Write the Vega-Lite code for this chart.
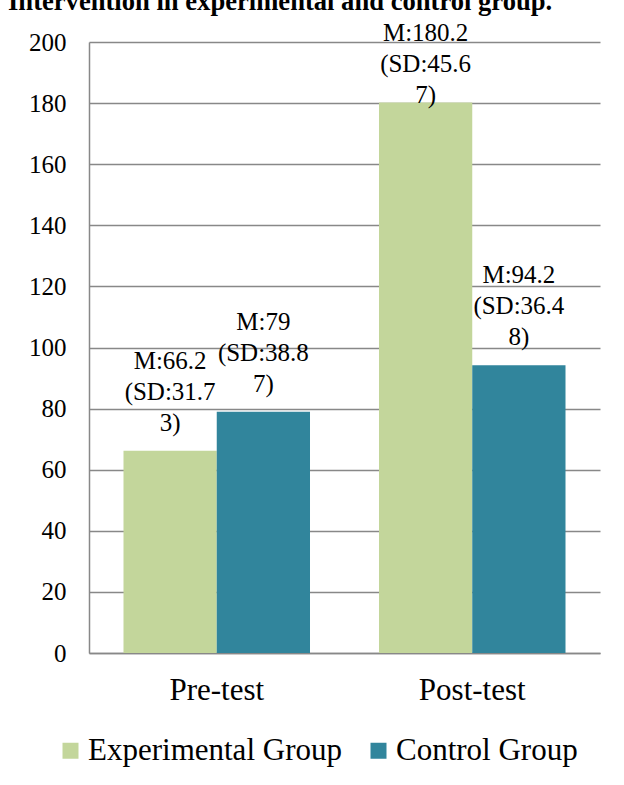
{
  "$schema": "https://vega.github.io/schema/vega-lite/v6.json",
  "autosize": {"type": "none"},
  "padding": {"left": 89, "top": 42, "right": 24, "bottom": 132},
  "width": 511,
  "height": 611,
  "background": "white",
  "title": {
    "text": "Intervention in experimental and control group.",
    "font": "Liberation Serif",
    "fontSize": 26.6,
    "fontWeight": "bold",
    "color": "black",
    "anchor": "start",
    "frame": "group",
    "dx": -81,
    "dy": 15,
    "baseline": "alphabetic",
    "offset": 0
  },
  "data": {
    "values": [
      {"test": "Pre-test", "group": "Experimental Group", "value": 66.2, "label": "M:66.2\n(SD:31.7\n3)"},
      {"test": "Pre-test", "group": "Control Group", "value": 79, "label": "M:79\n(SD:38.8\n7)"},
      {"test": "Post-test", "group": "Experimental Group", "value": 180.2, "label": "M:180.2\n(SD:45.6\n7)"},
      {"test": "Post-test", "group": "Control Group", "value": 94.2, "label": "M:94.2\n(SD:36.4\n8)"}
    ]
  },
  "encoding": {
    "x": {
      "field": "test", "type": "nominal", "sort": ["Pre-test", "Post-test"],
      "scale": {"paddingInner": 0.27, "paddingOuter": 0.135},
      "axis": {"title": null, "labelAngle": 0, "ticks": false, "domain": true, "domainColor": "#888888", "domainWidth": 1.5, "labelFont": "Liberation Serif", "labelFontSize": 31, "labelColor": "black", "labelPadding": 22, "grid": false}
    },
    "y": {
      "field": "value", "type": "quantitative",
      "scale": {"domain": [0, 200], "nice": false, "zero": true},
      "axis": {"title": null, "values": [0, 20, 40, 60, 80, 100, 120, 140, 160, 180, 200], "ticks": false, "domain": true, "domainColor": "#888888", "domainWidth": 1.5, "grid": true, "gridColor": "#888888", "gridWidth": 1.5, "labelFont": "Liberation Serif", "labelFontSize": 25, "labelColor": "black", "labelPadding": 23}
    }
  },
  "layer": [
    {
      "mark": {"type": "bar"},
      "encoding": {
        "xOffset": {"field": "group", "type": "nominal", "sort": ["Experimental Group", "Control Group"], "scale": {"paddingInner": 0, "paddingOuter": 0}},
        "color": {
          "field": "group", "type": "nominal",
          "scale": {"domain": ["Experimental Group", "Control Group"], "range": ["#C3D69B", "#31859C"]},
          "legend": {"title": null, "orient": "none", "legendX": -34, "legendY": 693, "direction": "horizontal", "symbolType": "square", "symbolSize": 256, "symbolStrokeWidth": 0, "labelFont": "Liberation Serif", "labelFontSize": 31, "labelColor": "black", "labelOffset": 2, "labelLimit": 400, "columnPadding": 21, "padding": 0, "symbolOpacity": 1}
        }
      }
    },
    {
      "transform": [{"filter": "datum.value < 150"}],
      "mark": {"type": "text", "font": "Liberation Serif", "fontSize": 25, "color": "black", "lineBreak": "\n", "lineHeight": 31, "baseline": "bottom", "align": "center", "dy": -77},
      "encoding": {
        "xOffset": {"field": "group", "type": "nominal", "sort": ["Experimental Group", "Control Group"]},
        "text": {"field": "label"}
      }
    },
    {
      "transform": [{"filter": "datum.value >= 150"}],
      "mark": {"type": "text", "font": "Liberation Serif", "fontSize": 25, "color": "black", "lineBreak": "\n", "lineHeight": 31, "baseline": "bottom", "align": "center", "dy": -56},
      "encoding": {
        "xOffset": {"field": "group", "type": "nominal", "sort": ["Experimental Group", "Control Group"]},
        "text": {"field": "label"}
      }
    }
  ],
  "config": {"view": {"stroke": null}}
}
